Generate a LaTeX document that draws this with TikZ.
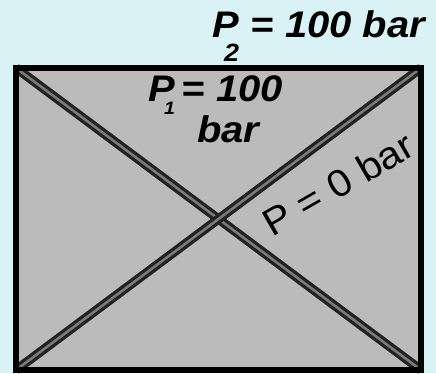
\documentclass[tikz,border=0pt]{standalone}
\usepackage{fontspec}
\setmainfont{Liberation Sans}
\definecolor{bgc}{HTML}{D9F2F5}
\definecolor{boxc}{HTML}{BBBBBB}
\definecolor{pipeedge}{HTML}{222222}
\definecolor{pipemid}{HTML}{7A7A7A}
\begin{document}
\begin{tikzpicture}[x=1pt,y=-1pt,
  pipe/.style={draw=pipeedge, line width=3.3pt, double=pipemid, double distance=2.6pt},
  frame/.style={draw=black, line width=6pt},
  lbl/.style={inner sep=0pt, text=black},
  biglbl/.style={lbl, font=\fontsize{37}{30}\selectfont\bfseries\itshape}]
\fill[bgc] (0,0) rectangle (436,373);
\useasboundingbox (0,0) rectangle (436,373);
\coordinate (tl) at (16,68);
\coordinate (tr) at (421,68);
\coordinate (bl) at (16,370);
\coordinate (br) at (421,370);
\fill[boxc] (tl) rectangle (br);
\draw[pipe] (tl) -- (br);
\draw[pipe] (bl) -- (tr);
\draw[frame] (tl) rectangle (br);
\node[biglbl, anchor=base west] (p2) at (212,37)
  {\scalebox{1.08}[1]{P\kern-13.6pt\raisebox{-24pt}{\fontsize{25}{25}\selectfont 2}\hspace{10.2pt}=\hspace{10.8pt}100 bar}};
\node[biglbl, anchor=base west, align=left] (p1) at (148,142)
  {\scalebox{1.08}[1]{P\kern-9.9pt\raisebox{-13pt}{\fontsize{18}{18}\selectfont 1}\hspace{5.7pt}=\hspace{10.8pt}100}\\\hspace*{49pt}\scalebox{1.08}[1]{bar}};
\node[lbl, anchor=base west, rotate=30, font=\fontsize{38}{38}\selectfont] (p0) at (272,238)
  {\scalebox{1.08}[1]{P = 0 bar}};
\end{tikzpicture}
\end{document}
